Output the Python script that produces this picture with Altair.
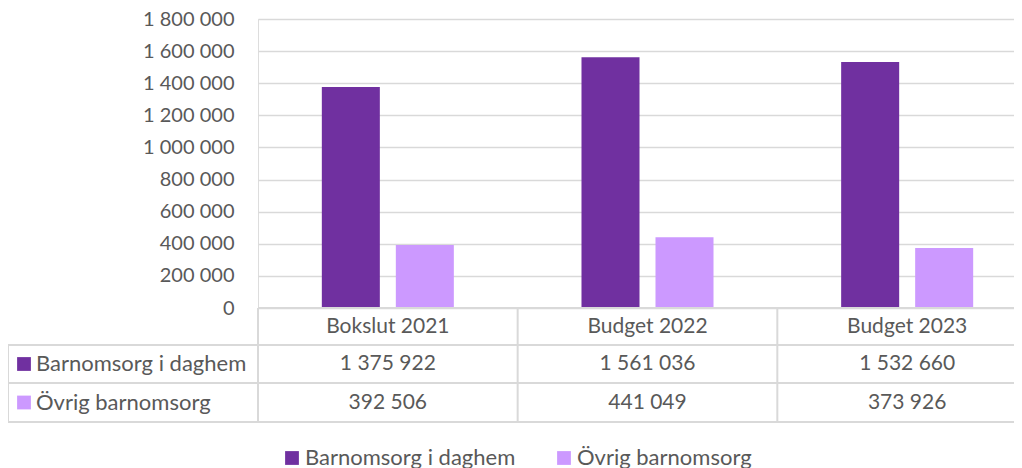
import altair as alt
import pandas as pd

categories = ["Bokslut 2021", "Budget 2022", "Budget 2023"]
series_names = ["Barnomsorg i daghem", "Övrig barnomsorg"]
daghem = [1375922, 1561036, 1532660]
ovrig = [392506, 441049, 373926]
y_ticks = [0, 200000, 400000, 600000, 800000, 1000000, 1200000, 1400000, 1600000, 1800000]
colors = ["#7030A0", "#CC99FF"]

FONT = "Lato"
TXT = "#595959"
GRID = "#D9D9D9"
FS_AXIS = 20
FS_TAB = 21
FS_LAB = 22

W_VIEW = 756
W_RANGE = 779
H = 289


def fmt(v):
    return f"{v:,}".replace(",", " ")


rows = []
for s, vals in zip(series_names, [daghem, ovrig]):
    for c, v in zip(categories, vals):
        rows.append({"cat": c, "series": s, "value": v, "label": fmt(v)})
df = pd.DataFrame(rows)
cat_df = pd.DataFrame({"cat": categories})
ser_df = pd.DataFrame({"series": series_names})

xscale = alt.Scale(domain=categories, range=[0, W_RANGE], paddingInner=0, paddingOuter=0)
cscale = alt.Scale(domain=series_names, range=colors)

base = alt.Chart(df)

bars = base.mark_bar().encode(
    x=alt.X("cat:N", scale=xscale, axis=None, sort=categories),
    xOffset=alt.XOffset("series:N", sort=series_names,
                        scale=alt.Scale(paddingInner=0.216, paddingOuter=0.8625)),
    y=alt.Y("value:Q", scale=alt.Scale(domain=[0, 1800000], nice=False),
            axis=alt.Axis(values=y_ticks, title=None, domain=False, ticks=False,
                          labelExpr="replace(format(datum.value, ','), /,/g, ' ')",
                          labelFont=FONT, labelFontSize=FS_AXIS, labelColor=TXT,
                          labelPadding=24, grid=True, gridColor=GRID, gridWidth=1.5)),
    color=alt.Color("series:N", scale=cscale, sort=series_names,
                    legend=alt.Legend(title=None, orient="none", direction="horizontal",
                                      legendX=23, legendY=428, symbolType="square",
                                      symbolSize=190, symbolStrokeWidth=0,
                                      labelFont=FONT, labelFontSize=FS_LAB, labelColor=TXT,
                                      labelOffset=2, columnPadding=37, labelLimit=400)),
)

# table header text
header = alt.Chart(cat_df).mark_text(font=FONT, fontSize=FS_TAB, color=TXT).encode(
    x=alt.X("cat:N", scale=xscale, sort=categories, axis=None),
    y=alt.value(H + 18.5),
    text="cat:N",
)

row_y = {series_names[0]: H + 56, series_names[1]: H + 94.5}

value_layers = []
for s in series_names:
    t = alt.Chart(df).transform_filter(alt.datum.series == s).mark_text(
        font=FONT, fontSize=FS_TAB, color=TXT).encode(
        x=alt.X("cat:N", scale=xscale, sort=categories, axis=None),
        y=alt.value(row_y[s]),
        text="label:N",
    )
    sq = alt.Chart(ser_df).transform_filter(alt.datum.series == s).mark_square(
        size=190, opacity=1, filled=True).encode(
        x=alt.value(-234),
        y=alt.value(row_y[s]),
        color=alt.Color("series:N", scale=cscale, legend=None),
    )
    lab = alt.Chart(ser_df).transform_filter(alt.datum.series == s).mark_text(
        font=FONT, fontSize=FS_LAB, color=TXT, align="left").encode(
        x=alt.value(-222),
        y=alt.value(row_y[s]),
        text="series:N",
    )
    value_layers += [t, sq, lab]

# table lines
vlines = alt.Chart(cat_df).mark_rule(color=GRID, strokeWidth=2).encode(
    x=alt.X("cat:N", scale=xscale, sort=categories, axis=None, bandPosition=0),
    y=alt.value(H),
    y2=alt.value(H + 114),
)
top_line = alt.Chart(cat_df).mark_rule(color=GRID, strokeWidth=2).encode(
    x=alt.value(0), x2=alt.value(W_RANGE), y=alt.value(H))
h1 = alt.Chart(cat_df).mark_rule(color=GRID, strokeWidth=2).encode(
    x=alt.value(-250), x2=alt.value(W_RANGE), y=alt.value(H + 37))
h2 = alt.Chart(cat_df).mark_rule(color=GRID, strokeWidth=2).encode(
    x=alt.value(-250), x2=alt.value(W_RANGE), y=alt.value(H + 75))
h3 = alt.Chart(cat_df).mark_rule(color=GRID, strokeWidth=2).encode(
    x=alt.value(-250), x2=alt.value(W_RANGE), y=alt.value(H + 114))
left_line = alt.Chart(cat_df).mark_rule(color=GRID, strokeWidth=2).encode(
    x=alt.value(-250), y=alt.value(H + 37), y2=alt.value(H + 114))

chart = alt.layer(
    bars, vlines, top_line, h1, h2, h3, left_line, header, *value_layers
).properties(
    width=W_VIEW, height=H,
    autosize=alt.AutoSizeParams(type="none"),
    padding={"left": 250, "top": 11, "right": 0, "bottom": 166},
).configure_view(stroke=None).configure(background="white")

chart.save("out.html", embed_options={"renderer": "svg", "actions": False})
